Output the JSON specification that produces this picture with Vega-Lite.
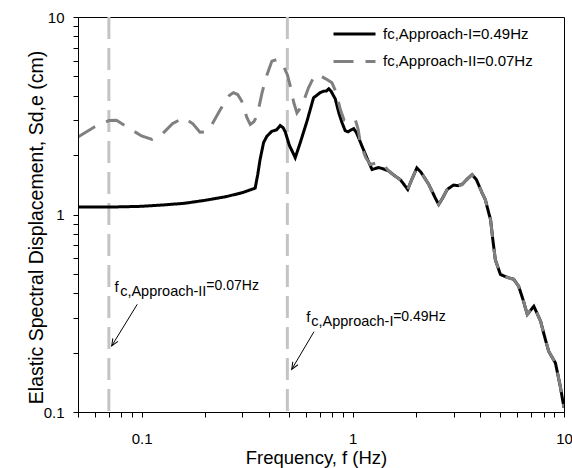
{
  "$schema": "https://vega.github.io/schema/vega-lite/v6.json",
  "width": 486,
  "height": 395,
  "autosize": {"type": "none"},
  "padding": {"left": 78, "top": 17, "right": 8, "bottom": 56},
  "background": "white",
  "config": {
    "font": "Liberation Sans",
    "view": {"stroke": "black", "strokeWidth": 1},
    "axis": {"grid": false, "domainColor": "black", "labelColor": "black", "titleColor": "black", "titleFontWeight": "normal"}
  },
  "datasets": {
    "spectra": [
      {"f": 0.05, "S": 1.09, "series": "I"},
      {"f": 0.07, "S": 1.09, "series": "I"},
      {"f": 0.1, "S": 1.1, "series": "I"},
      {"f": 0.13, "S": 1.12, "series": "I"},
      {"f": 0.16, "S": 1.14, "series": "I"},
      {"f": 0.2, "S": 1.18, "series": "I"},
      {"f": 0.25, "S": 1.23, "series": "I"},
      {"f": 0.3, "S": 1.29, "series": "I"},
      {"f": 0.345, "S": 1.36, "series": "I"},
      {"f": 0.355, "S": 1.6, "series": "I"},
      {"f": 0.364, "S": 1.9, "series": "I"},
      {"f": 0.378, "S": 2.31, "series": "I"},
      {"f": 0.392, "S": 2.49, "series": "I"},
      {"f": 0.414, "S": 2.64, "series": "I"},
      {"f": 0.435, "S": 2.68, "series": "I"},
      {"f": 0.453, "S": 2.82, "series": "I"},
      {"f": 0.467, "S": 2.76, "series": "I"},
      {"f": 0.479, "S": 2.62, "series": "I"},
      {"f": 0.5, "S": 2.25, "series": "I"},
      {"f": 0.534, "S": 1.94, "series": "I"},
      {"f": 0.564, "S": 2.31, "series": "I"},
      {"f": 0.607, "S": 2.97, "series": "I"},
      {"f": 0.652, "S": 3.9, "series": "I"},
      {"f": 0.701, "S": 4.14, "series": "I"},
      {"f": 0.727, "S": 4.21, "series": "I"},
      {"f": 0.75, "S": 4.22, "series": "I"},
      {"f": 0.77, "S": 4.33, "series": "I"},
      {"f": 0.79, "S": 4.2, "series": "I"},
      {"f": 0.826, "S": 3.85, "series": "I"},
      {"f": 0.86, "S": 3.25, "series": "I"},
      {"f": 0.889, "S": 2.92, "series": "I"},
      {"f": 0.92, "S": 2.66, "series": "I"},
      {"f": 0.95, "S": 2.62, "series": "I"},
      {"f": 0.98, "S": 2.68, "series": "I"},
      {"f": 1.01, "S": 2.72, "series": "I"},
      {"f": 1.04, "S": 2.6, "series": "I"},
      {"f": 1.065, "S": 2.45, "series": "I"},
      {"f": 1.105, "S": 2.22, "series": "I"},
      {"f": 1.17, "S": 1.92, "series": "I"},
      {"f": 1.233, "S": 1.69, "series": "I"},
      {"f": 1.28, "S": 1.71, "series": "I"},
      {"f": 1.325, "S": 1.73, "series": "I"},
      {"f": 1.4, "S": 1.7, "series": "I"},
      {"f": 1.48, "S": 1.66, "series": "I"},
      {"f": 1.58, "S": 1.57, "series": "I"},
      {"f": 1.68, "S": 1.5, "series": "I"},
      {"f": 1.82, "S": 1.34, "series": "I"},
      {"f": 1.9, "S": 1.5, "series": "I"},
      {"f": 2.01, "S": 1.72, "series": "I"},
      {"f": 2.1, "S": 1.64, "series": "I"},
      {"f": 2.29, "S": 1.42, "series": "I"},
      {"f": 2.45, "S": 1.22, "series": "I"},
      {"f": 2.55, "S": 1.124, "series": "I"},
      {"f": 2.65, "S": 1.2, "series": "I"},
      {"f": 2.8, "S": 1.34, "series": "I"},
      {"f": 3.0, "S": 1.41, "series": "I"},
      {"f": 3.15, "S": 1.4, "series": "I"},
      {"f": 3.29, "S": 1.42, "series": "I"},
      {"f": 3.5, "S": 1.52, "series": "I"},
      {"f": 3.67, "S": 1.59, "series": "I"},
      {"f": 3.85, "S": 1.5, "series": "I"},
      {"f": 4.09, "S": 1.29, "series": "I"},
      {"f": 4.24, "S": 1.19, "series": "I"},
      {"f": 4.4, "S": 1.02, "series": "I"},
      {"f": 4.49, "S": 0.943, "series": "I"},
      {"f": 4.6, "S": 0.75, "series": "I"},
      {"f": 4.73, "S": 0.59, "series": "I"},
      {"f": 5.0, "S": 0.497, "series": "I"},
      {"f": 5.4, "S": 0.48, "series": "I"},
      {"f": 5.78, "S": 0.47, "series": "I"},
      {"f": 6.1, "S": 0.433, "series": "I"},
      {"f": 6.4, "S": 0.37, "series": "I"},
      {"f": 6.7, "S": 0.312, "series": "I"},
      {"f": 7.2, "S": 0.343, "series": "I"},
      {"f": 7.75, "S": 0.288, "series": "I"},
      {"f": 8.1, "S": 0.24, "series": "I"},
      {"f": 8.46, "S": 0.203, "series": "I"},
      {"f": 9.11, "S": 0.177, "series": "I"},
      {"f": 9.6, "S": 0.135, "series": "I"},
      {"f": 10, "S": 0.105, "series": "I"},
      {"f": 0.05, "S": 2.47, "series": "II"},
      {"f": 0.06, "S": 2.78, "series": "II"},
      {"f": 0.07, "S": 2.99, "series": "II"},
      {"f": 0.076, "S": 3.0, "series": "II"},
      {"f": 0.085, "S": 2.78, "series": "II"},
      {"f": 0.1, "S": 2.5, "series": "II"},
      {"f": 0.112, "S": 2.4, "series": "II"},
      {"f": 0.125, "S": 2.55, "series": "II"},
      {"f": 0.14, "S": 2.88, "series": "II"},
      {"f": 0.158, "S": 3.09, "series": "II"},
      {"f": 0.175, "S": 2.88, "series": "II"},
      {"f": 0.189, "S": 2.61, "series": "II"},
      {"f": 0.2, "S": 2.62, "series": "II"},
      {"f": 0.211, "S": 2.75, "series": "II"},
      {"f": 0.236, "S": 3.4, "series": "II"},
      {"f": 0.26, "S": 4.0, "series": "II"},
      {"f": 0.272, "S": 4.14, "series": "II"},
      {"f": 0.285, "S": 4.05, "series": "II"},
      {"f": 0.298, "S": 3.75, "series": "II"},
      {"f": 0.315, "S": 3.1, "series": "II"},
      {"f": 0.327, "S": 2.86, "series": "II"},
      {"f": 0.34, "S": 2.95, "series": "II"},
      {"f": 0.352, "S": 3.15, "series": "II"},
      {"f": 0.372, "S": 4.14, "series": "II"},
      {"f": 0.39, "S": 5.0, "series": "II"},
      {"f": 0.414, "S": 5.98, "series": "II"},
      {"f": 0.437, "S": 6.09, "series": "II"},
      {"f": 0.455, "S": 5.9, "series": "II"},
      {"f": 0.47, "S": 5.63, "series": "II"},
      {"f": 0.49, "S": 5.1, "series": "II"},
      {"f": 0.506, "S": 4.47, "series": "II"},
      {"f": 0.525, "S": 3.7, "series": "II"},
      {"f": 0.544, "S": 3.27, "series": "II"},
      {"f": 0.574, "S": 3.54, "series": "II"},
      {"f": 0.617, "S": 4.38, "series": "II"},
      {"f": 0.65, "S": 4.9, "series": "II"},
      {"f": 0.689, "S": 5.12, "series": "II"},
      {"f": 0.73, "S": 4.92, "series": "II"},
      {"f": 0.755, "S": 4.83, "series": "II"},
      {"f": 0.797, "S": 4.64, "series": "II"},
      {"f": 0.83, "S": 4.2, "series": "II"},
      {"f": 0.873, "S": 3.4, "series": "II"},
      {"f": 0.91, "S": 3.0, "series": "II"},
      {"f": 0.955, "S": 2.91, "series": "II"},
      {"f": 1.0, "S": 2.95, "series": "II"},
      {"f": 1.03, "S": 3.0, "series": "II"},
      {"f": 1.06, "S": 2.7, "series": "II"},
      {"f": 1.085, "S": 2.31, "series": "II"},
      {"f": 1.15, "S": 1.95, "series": "II"},
      {"f": 1.21, "S": 1.79, "series": "II"},
      {"f": 1.28, "S": 1.82, "series": "II"},
      {"f": 1.35, "S": 1.83, "series": "II"},
      {"f": 1.42, "S": 1.75, "series": "II"},
      {"f": 1.48, "S": 1.66, "series": "II"},
      {"f": 1.58, "S": 1.57, "series": "II"},
      {"f": 1.68, "S": 1.5, "series": "II"},
      {"f": 1.82, "S": 1.34, "series": "II"},
      {"f": 1.9, "S": 1.5, "series": "II"},
      {"f": 2.01, "S": 1.72, "series": "II"},
      {"f": 2.1, "S": 1.64, "series": "II"},
      {"f": 2.29, "S": 1.42, "series": "II"},
      {"f": 2.45, "S": 1.22, "series": "II"},
      {"f": 2.55, "S": 1.124, "series": "II"},
      {"f": 2.65, "S": 1.2, "series": "II"},
      {"f": 2.8, "S": 1.34, "series": "II"},
      {"f": 3.0, "S": 1.41, "series": "II"},
      {"f": 3.15, "S": 1.4, "series": "II"},
      {"f": 3.29, "S": 1.42, "series": "II"},
      {"f": 3.5, "S": 1.52, "series": "II"},
      {"f": 3.67, "S": 1.59, "series": "II"},
      {"f": 3.85, "S": 1.5, "series": "II"},
      {"f": 4.09, "S": 1.29, "series": "II"},
      {"f": 4.24, "S": 1.19, "series": "II"},
      {"f": 4.4, "S": 1.02, "series": "II"},
      {"f": 4.49, "S": 0.943, "series": "II"},
      {"f": 4.6, "S": 0.75, "series": "II"},
      {"f": 4.73, "S": 0.59, "series": "II"},
      {"f": 5.0, "S": 0.497, "series": "II"},
      {"f": 5.4, "S": 0.48, "series": "II"},
      {"f": 5.78, "S": 0.47, "series": "II"},
      {"f": 6.1, "S": 0.433, "series": "II"},
      {"f": 6.4, "S": 0.37, "series": "II"},
      {"f": 6.7, "S": 0.312, "series": "II"},
      {"f": 7.2, "S": 0.343, "series": "II"},
      {"f": 7.75, "S": 0.288, "series": "II"},
      {"f": 8.1, "S": 0.24, "series": "II"},
      {"f": 8.46, "S": 0.203, "series": "II"},
      {"f": 9.11, "S": 0.177, "series": "II"},
      {"f": 9.6, "S": 0.135, "series": "II"},
      {"f": 10, "S": 0.105, "series": "II"}
    ],
    "cutoffs": [{"fc": 0.07}, {"fc": 0.49}],
    "one": [{}]
  },
  "layer": [
    {
      "data": {"name": "cutoffs"},
      "mark": {"type": "rule", "color": "#c4c4c4", "strokeWidth": 3, "strokeDash": [22, 9]},
      "encoding": {
        "x": {"field": "fc", "type": "quantitative", "scale": {"type": "log", "domain": [0.05, 10], "nice": false}}
      }
    },
    {
      "data": {"name": "spectra"},
      "mark": {"type": "line", "strokeWidth": 3, "clip": true},
      "encoding": {
        "x": {
          "field": "f", "type": "quantitative",
          "scale": {"type": "log", "domain": [0.05, 10], "nice": false},
          "axis": {
            "title": "Frequency, f (Hz)",
            "values": [0.05, 0.06, 0.07, 0.08, 0.09, 0.1, 0.2, 0.3, 0.4, 0.5, 0.6, 0.7, 0.8, 0.9, 1, 2, 3, 4, 5, 6, 7, 8, 9, 10],
            "labelExpr": "datum.value == 0.1 ? '0.1' : datum.value == 1 ? '1' : datum.value == 10 ? '10' : ''",
            "tickColor": "black",
            "tickSize": 5,
            "labelFont": "Liberation Sans",
            "labelFontSize": 15,
            "labelBaseline": "alphabetic",
            "labelPadding": 26.5,
            "labelFlush": false,
            "titleFont": "Liberation Sans",
            "titleFontSize": 18.5,
            "titleX": 238,
            "titleY": 51.5,
            "titleBaseline": "alphabetic",
            "zindex": 1
          }
        },
        "y": {
          "field": "S", "type": "quantitative",
          "scale": {"type": "log", "domain": [0.1, 10], "nice": false},
          "axis": {
            "title": "Elastic Spectral Displacement, Sd,e (cm)",
            "values": [0.1, 0.2, 0.3, 0.4, 0.5, 0.6, 0.7, 0.8, 0.9, 1, 2, 3, 4, 5, 6, 7, 8, 9, 10],
            "labelExpr": "datum.value == 0.1 ? '0.1' : datum.value == 1 ? '1' : datum.value == 10 ? '10' : ''",
            "tickColor": "black",
            "tickSize": 5,
            "labelFont": "Liberation Sans",
            "labelFontSize": 15,
            "labelPadding": 9,
            "titleFont": "Liberation Sans",
            "titleFontSize": 19.5,
            "titleX": -36,
            "titleY": 210,
            "titleAngle": -90,
            "titleBaseline": "alphabetic",
            "zindex": 1
          }
        },
        "color": {
          "field": "series", "type": "nominal",
          "scale": {"domain": ["I", "II"], "range": ["#000000", "#808080"]},
          "legend": {
            "title": null,
            "orient": "none",
            "legendX": 254,
            "legendY": 7,
            "padding": 0,
            "symbolType": "stroke",
            "symbolSize": 1764,
            "symbolStrokeWidth": 3,
            "clipHeight": 20,
            "rowPadding": 7.4,
            "labelOffset": 6,
            "labelFontSize": 15,
            "labelColor": "black",
            "labelLimit": 300,
            "labelExpr": "datum.label == 'I' ? 'fc,Approach-I=0.49Hz' : 'fc,Approach-II=0.07Hz'"
          }
        },
        "strokeDash": {
          "field": "series", "type": "nominal",
          "scale": {"domain": ["I", "II"], "range": [[1, 0], [20, 12]]},
          "legend": {
            "title": null,
            "orient": "none",
            "legendX": 254,
            "legendY": 7,
            "padding": 0,
            "symbolType": "stroke",
            "symbolSize": 1764,
            "symbolStrokeWidth": 3,
            "clipHeight": 20,
            "rowPadding": 7.4,
            "labelOffset": 6,
            "labelFontSize": 15,
            "labelColor": "black",
            "labelLimit": 300,
            "labelExpr": "datum.label == 'I' ? 'fc,Approach-I=0.49Hz' : 'fc,Approach-II=0.07Hz'"
          }
        },
        "order": {"field": "f", "type": "quantitative"}
      }
    },
    {
      "data": {"name": "one"},
      "mark": {"type": "rule", "color": "black", "strokeWidth": 1},
      "encoding": {
        "x": {"datum": 0.0954, "type": "quantitative"},
        "y": {"datum": 0.351, "type": "quantitative"},
        "x2": {"datum": 0.0722},
        "y2": {"datum": 0.216}
      }
    },
    {
      "data": {"name": "one"},
      "mark": {"type": "rule", "color": "black", "strokeWidth": 1},
      "encoding": {
        "x": {"datum": 0.655, "type": "quantitative"},
        "y": {"datum": 0.255, "type": "quantitative"},
        "x2": {"datum": 0.514},
        "y2": {"datum": 0.1645}
      }
    },
    {
      "data": {"name": "one"},
      "mark": {"type": "point", "shape": "M-0.42,-1L0,0L0.42,-1", "filled": false, "stroke": "black", "strokeWidth": 1, "size": 200, "angle": 31.5, "opacity": 1},
      "encoding": {
        "x": {"datum": 0.0722, "type": "quantitative"},
        "y": {"datum": 0.216, "type": "quantitative"}
      }
    },
    {
      "data": {"name": "one"},
      "mark": {"type": "point", "shape": "M-0.42,-1L0,0L0.42,-1", "filled": false, "stroke": "black", "strokeWidth": 1, "size": 200, "angle": 30.7, "opacity": 1},
      "encoding": {
        "x": {"datum": 0.514, "type": "quantitative"},
        "y": {"datum": 0.1645, "type": "quantitative"}
      }
    },
    {
      "data": {"name": "one"},
      "mark": {"type": "text", "text": "f", "font": "Liberation Sans", "fontSize": 15, "align": "left", "baseline": "alphabetic", "dx": 5.6, "dy": -1.4, "color": "black"},
      "encoding": {"x": {"datum": 0.07, "type": "quantitative"}, "y": {"datum": 0.4, "type": "quantitative"}}
    },
    {
      "data": {"name": "one"},
      "mark": {"type": "text", "text": "c,Approach-II", "font": "Liberation Sans", "fontSize": 14.5, "align": "left", "baseline": "alphabetic", "dx": 11.3, "dy": 2.6, "color": "black"},
      "encoding": {"x": {"datum": 0.07, "type": "quantitative"}, "y": {"datum": 0.4, "type": "quantitative"}}
    },
    {
      "data": {"name": "one"},
      "mark": {"type": "text", "text": "=0.07Hz", "font": "Liberation Sans", "fontSize": 14, "align": "left", "baseline": "alphabetic", "dx": 97.5, "dy": -3.1, "color": "black"},
      "encoding": {"x": {"datum": 0.07, "type": "quantitative"}, "y": {"datum": 0.4, "type": "quantitative"}}
    },
    {
      "data": {"name": "one"},
      "mark": {"type": "text", "text": "f", "font": "Liberation Sans", "fontSize": 15, "align": "left", "baseline": "alphabetic", "dx": 18.9, "dy": 4.2, "color": "black"},
      "encoding": {"x": {"datum": 0.49, "type": "quantitative"}, "y": {"datum": 0.3, "type": "quantitative"}}
    },
    {
      "data": {"name": "one"},
      "mark": {"type": "text", "text": "c,Approach-I", "font": "Liberation Sans", "fontSize": 14.5, "align": "left", "baseline": "alphabetic", "dx": 23.9, "dy": 8.2, "color": "black"},
      "encoding": {"x": {"datum": 0.49, "type": "quantitative"}, "y": {"datum": 0.3, "type": "quantitative"}}
    },
    {
      "data": {"name": "one"},
      "mark": {"type": "text", "text": "=0.49Hz", "font": "Liberation Sans", "fontSize": 14, "align": "left", "baseline": "alphabetic", "dx": 105.8, "dy": 2.9, "color": "black"},
      "encoding": {"x": {"datum": 0.49, "type": "quantitative"}, "y": {"datum": 0.3, "type": "quantitative"}}
    }
  ]
}
